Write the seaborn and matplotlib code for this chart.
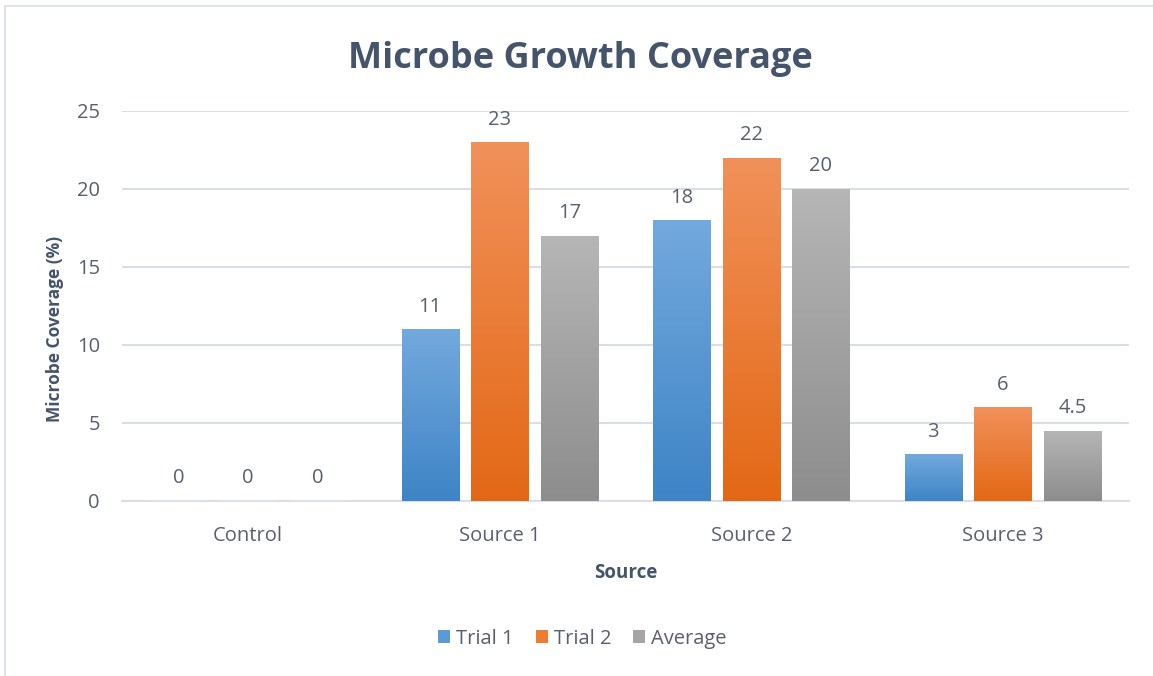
import numpy as np
import pandas as pd
import seaborn as sb
import matplotlib.pyplot as plt
from matplotlib.colors import LinearSegmentedColormap
from matplotlib.patches import Rectangle, Patch

# data
sources = ["Control", "Source 1", "Source 2", "Source 3"]
trial_1 = [0, 11, 18, 3]
trial_2 = [0, 23, 22, 6]
average = [0, 17, 20, 4.5]
series = ["Trial 1", "Trial 2", "Average"]

# top / bottom colours of the excel style gradient
grad = {
    "Trial 1": ("#73a9dd", "#3e84c6"),
    "Trial 2": ("#f1915a", "#e36816"),
    "Average": ("#b6b6b6", "#8d8d8d"),
}
mid = {"Trial 1": "#5b9bd5", "Trial 2": "#ed7d31", "Average": "#a5a5a5"}

df = pd.DataFrame({
    "Source": sources * 3,
    "Series": [s for s in series for _ in sources],
    "Value": trial_1 + trial_2 + average,
})

sb.set_style("white")
plt.rcParams["font.family"] = ["Open Sans", "DejaVu Sans"]
txt = "#44546a"
tick_c = "#595f6e"

fig = plt.figure(figsize=(11.53, 6.76), dpi=100)
ax = fig.add_axes([0.106, 0.259, 0.873, 0.577])

sb.barplot(data=df, x="Source", y="Value", hue="Series", hue_order=series,
           palette=mid, width=0.83, gap=0.18, legend=False, ax=ax, zorder=3)

ax.set_ylim(0, 25)
ax.set_yticks(range(0, 26, 5))
ax.grid(axis="y", color="#dadee6", lw=1.5, zorder=0)
for s in ["top", "right", "left"]:
    ax.spines[s].set_visible(False)
ax.spines["bottom"].set_color("#dadee6")
ax.spines["bottom"].set_linewidth(1.5)
ax.tick_params(axis="both", length=0, labelsize=14.5, colors=tick_c)
ax.tick_params(axis="x", pad=18)
ax.tick_params(axis="y", pad=16)

# gradient fill on every bar, clipped to the seaborn patch
for cont, name in zip(ax.containers, series):
    top, bot = grad[name]
    cmap = LinearSegmentedColormap.from_list(name, [bot, top])
    for bar in cont:
        x0, y0 = bar.get_x(), bar.get_y()
        w, h = bar.get_width(), bar.get_height()
        if h <= 0:
            continue
        bar.set_facecolor("none")
        bar.set_edgecolor("none")
        im = ax.imshow(np.linspace(0, 1, 256).reshape(-1, 1), cmap=cmap,
                       origin="lower", aspect="auto",
                       extent=[x0, x0 + w, y0, y0 + h], zorder=3)
        im.set_clip_path(bar)
    labels = [f"{v:g}" for v in cont.datavalues]
    ax.bar_label(cont, labels=labels, padding=9, fontsize=14.5, color=tick_c)

ax.set_xlim(-0.5, 3.5)
ax.set_xlabel("Source", fontsize=13.5, fontweight="bold", color=txt, labelpad=12)
ax.set_ylabel("Microbe Coverage (%)", fontsize=12.5, fontweight="bold", color=txt)
ax.yaxis.set_label_coords(-0.058, 0.44)

fig.suptitle("Microbe Growth Coverage", x=0.503, y=0.94, fontsize=26,
             fontweight="bold", color=txt)

handles = [Patch(facecolor=mid[s], edgecolor="none") for s in series]
fig.legend(handles, series, loc="center", bbox_to_anchor=(0.505, 0.055), ncol=3,
           frameon=False, fontsize=14.5, labelcolor=tick_c, handlelength=0.6,
           handleheight=0.6, handletextpad=0.3, columnspacing=1.1)

# light chart border (top and left visible in the crop)
fig.patches.append(Rectangle((5 / 1153, -0.1), 1.2, 1 - 6 / 676 + 0.1,
                             transform=fig.transFigure, fill=False,
                             edgecolor="#dfe3ea", lw=1.5))

fig.savefig("out.png", dpi=100)
